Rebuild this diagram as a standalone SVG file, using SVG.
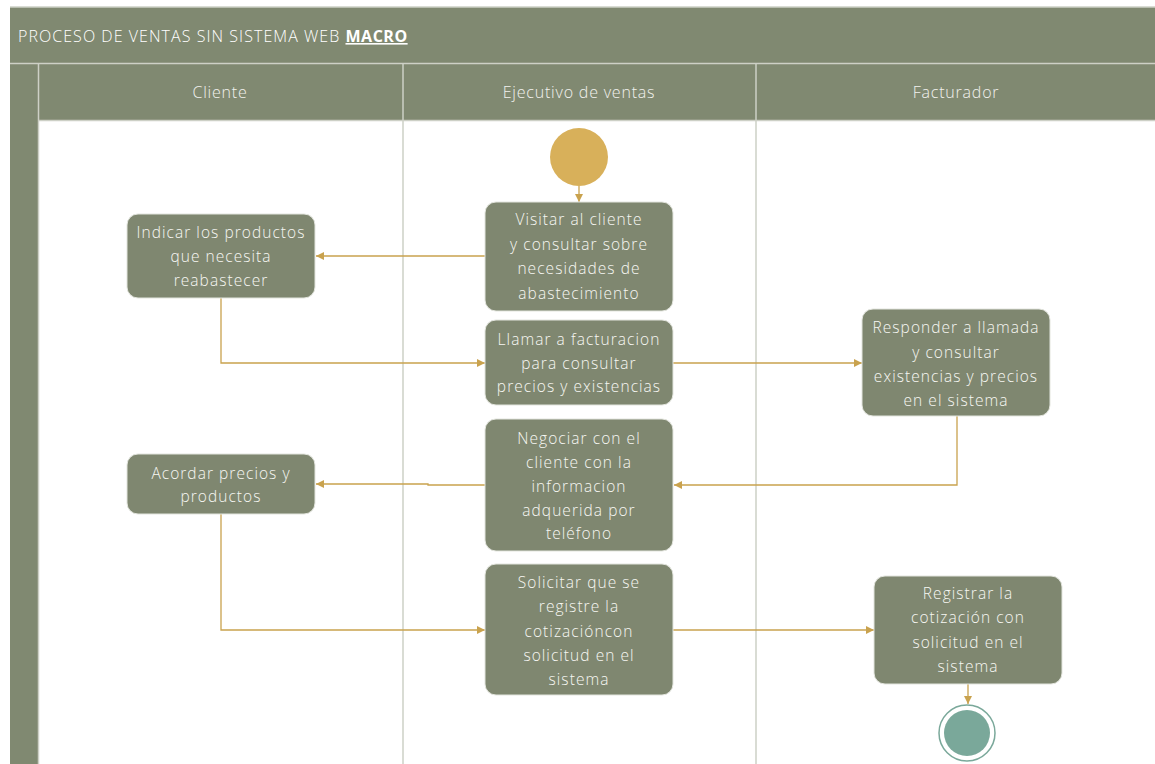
<svg xmlns="http://www.w3.org/2000/svg" width="1155" height="764" viewBox="0 0 1155 764">
  <defs>
    <style>
      .band { fill: #808971; }
      .rule { stroke: #cdd0c6; stroke-width: 1.5; fill: none; }
      .lane { stroke: #cdd0c6; stroke-width: 1.5; }
      .hdr { font-family: "Open Sans", "DejaVu Sans", sans-serif; font-size: 16px; font-weight: 300; letter-spacing: 0.8px; fill: #f2f2ee; text-anchor: middle; }
      .title { font-family: "Open Sans", "DejaVu Sans", sans-serif; font-size: 16px; font-weight: 300; letter-spacing: 1.05px; fill: #ffffff; }
      .act rect { fill: #7f8770; stroke: #e3e5de; stroke-width: 1; }
      .act text { font-family: "Open Sans", "DejaVu Sans", sans-serif; font-size: 15.5px; font-weight: 300; letter-spacing: 1.05px; fill: #f7f7f3; text-anchor: middle; }
      .flow { stroke: #c9a24e; stroke-width: 1.3; fill: none; marker-end: url(#ah); }
    </style>
    <marker id="ah" viewBox="0 0 10 10" refX="10" refY="5" markerWidth="8" markerHeight="8" markerUnits="userSpaceOnUse" orient="auto">
      <path d="M0,0 L10,5 L0,10 z" fill="#c9a24e"/>
    </marker>
  </defs>

  <rect width="1155" height="764" fill="#ffffff"/>

  <!-- pool frame -->
  <g id="pool">
    <rect class="band" x="10" y="7" width="1145" height="56"/>
    <rect class="band" x="10" y="63" width="28" height="701"/>
    <rect class="band" x="38" y="63" width="1117" height="57"/>
    <line class="rule" x1="10" y1="7" x2="1155" y2="7"/>
    <line class="rule" x1="10" y1="63.5" x2="1155" y2="63.5"/>
    <line class="rule" x1="38" y1="120.5" x2="1155" y2="120.5"/>
    <line class="rule" x1="38.5" y1="63" x2="38.5" y2="764"/>
    <line class="lane" x1="403" y1="63" x2="403" y2="764"/>
    <line class="lane" x1="756" y1="63" x2="756" y2="764"/>
    <text class="title" x="18" y="42">PROCESO DE VENTAS SIN SISTEMA WEB <tspan font-weight="bold" letter-spacing="0.5px" text-decoration="underline">MACRO</tspan></text>
    <text class="hdr" x="220" y="98">Cliente</text>
    <text class="hdr" x="579" y="98">Ejecutivo de ventas</text>
    <text class="hdr" x="956" y="98">Facturador</text>
  </g>

  <!-- connectors -->
  <g id="connectors">
    <path class="flow" d="M579,186 V202"/>
    <path class="flow" d="M485,256 H316"/>
    <path class="flow" d="M221,298 V363 H485"/>
    <path class="flow" d="M673,363 H862"/>
    <path class="flow" d="M957,416 V485 H674"/>
    <path class="flow" d="M485,485 H428 V484 H316"/>
    <path class="flow" d="M221,514 V630 H485"/>
    <path class="flow" d="M673,630 H874"/>
    <path class="flow" d="M968,684 V704"/>
  </g>

  <!-- start -->
  <g id="start">
    <circle cx="579" cy="157" r="29" fill="#d8b05a"/>
  </g>

  <g id="visitar" class="act">
    <rect x="485" y="202" width="188" height="109" rx="11"/>
    <text x="579" y="225">Visitar al cliente</text>
    <text x="579" y="250">y consultar sobre</text>
    <text x="579" y="274">necesidades de</text>
    <text x="579" y="299">abastecimiento</text>
  </g>

  <g id="indicar" class="act">
    <rect x="127" y="214" width="188" height="84" rx="11"/>
    <text x="221" y="238">Indicar los productos</text>
    <text x="221" y="262">que necesita</text>
    <text x="221" y="286">reabastecer</text>
  </g>

  <g id="llamar" class="act">
    <rect x="485" y="320" width="188" height="85" rx="11"/>
    <text x="579" y="345">Llamar a facturacion</text>
    <text x="579" y="369">para consultar</text>
    <text x="579" y="392">precios y existencias</text>
  </g>

  <g id="responder" class="act">
    <rect x="862" y="309" width="188" height="107" rx="11"/>
    <text x="956" y="333">Responder a llamada</text>
    <text x="956" y="358">y consultar</text>
    <text x="956" y="382">existencias y precios</text>
    <text x="956" y="406">en el sistema</text>
  </g>

  <g id="negociar" class="act">
    <rect x="485" y="419" width="188" height="132" rx="11"/>
    <text x="579" y="444">Negociar con el</text>
    <text x="579" y="468">cliente con la</text>
    <text x="579" y="492">informacion</text>
    <text x="579" y="516">adquerida por</text>
    <text x="579" y="539">teléfono</text>
  </g>

  <g id="acordar" class="act">
    <rect x="127" y="454" width="188" height="60" rx="11"/>
    <text x="221" y="479">Acordar precios y</text>
    <text x="221" y="502">productos</text>
  </g>

  <g id="solicitar" class="act">
    <rect x="485" y="564" width="188" height="131" rx="11"/>
    <text x="579" y="588">Solicitar que se</text>
    <text x="579" y="612">registre la</text>
    <text x="579" y="637">cotizacióncon</text>
    <text x="579" y="661">solicitud en el</text>
    <text x="579" y="685">sistema</text>
  </g>

  <g id="registrar" class="act">
    <rect x="874" y="576" width="188" height="108" rx="11"/>
    <text x="968" y="599">Registrar la</text>
    <text x="968" y="623">cotización con</text>
    <text x="968" y="648">solicitud en el</text>
    <text x="968" y="672">sistema</text>
  </g>

  <!-- end -->
  <g id="end">
    <circle cx="967" cy="733" r="28" fill="#ffffff" stroke="#7aa89a" stroke-width="1.5"/>
    <circle cx="967" cy="733" r="23" fill="#7aa89a"/>
  </g>
</svg>
